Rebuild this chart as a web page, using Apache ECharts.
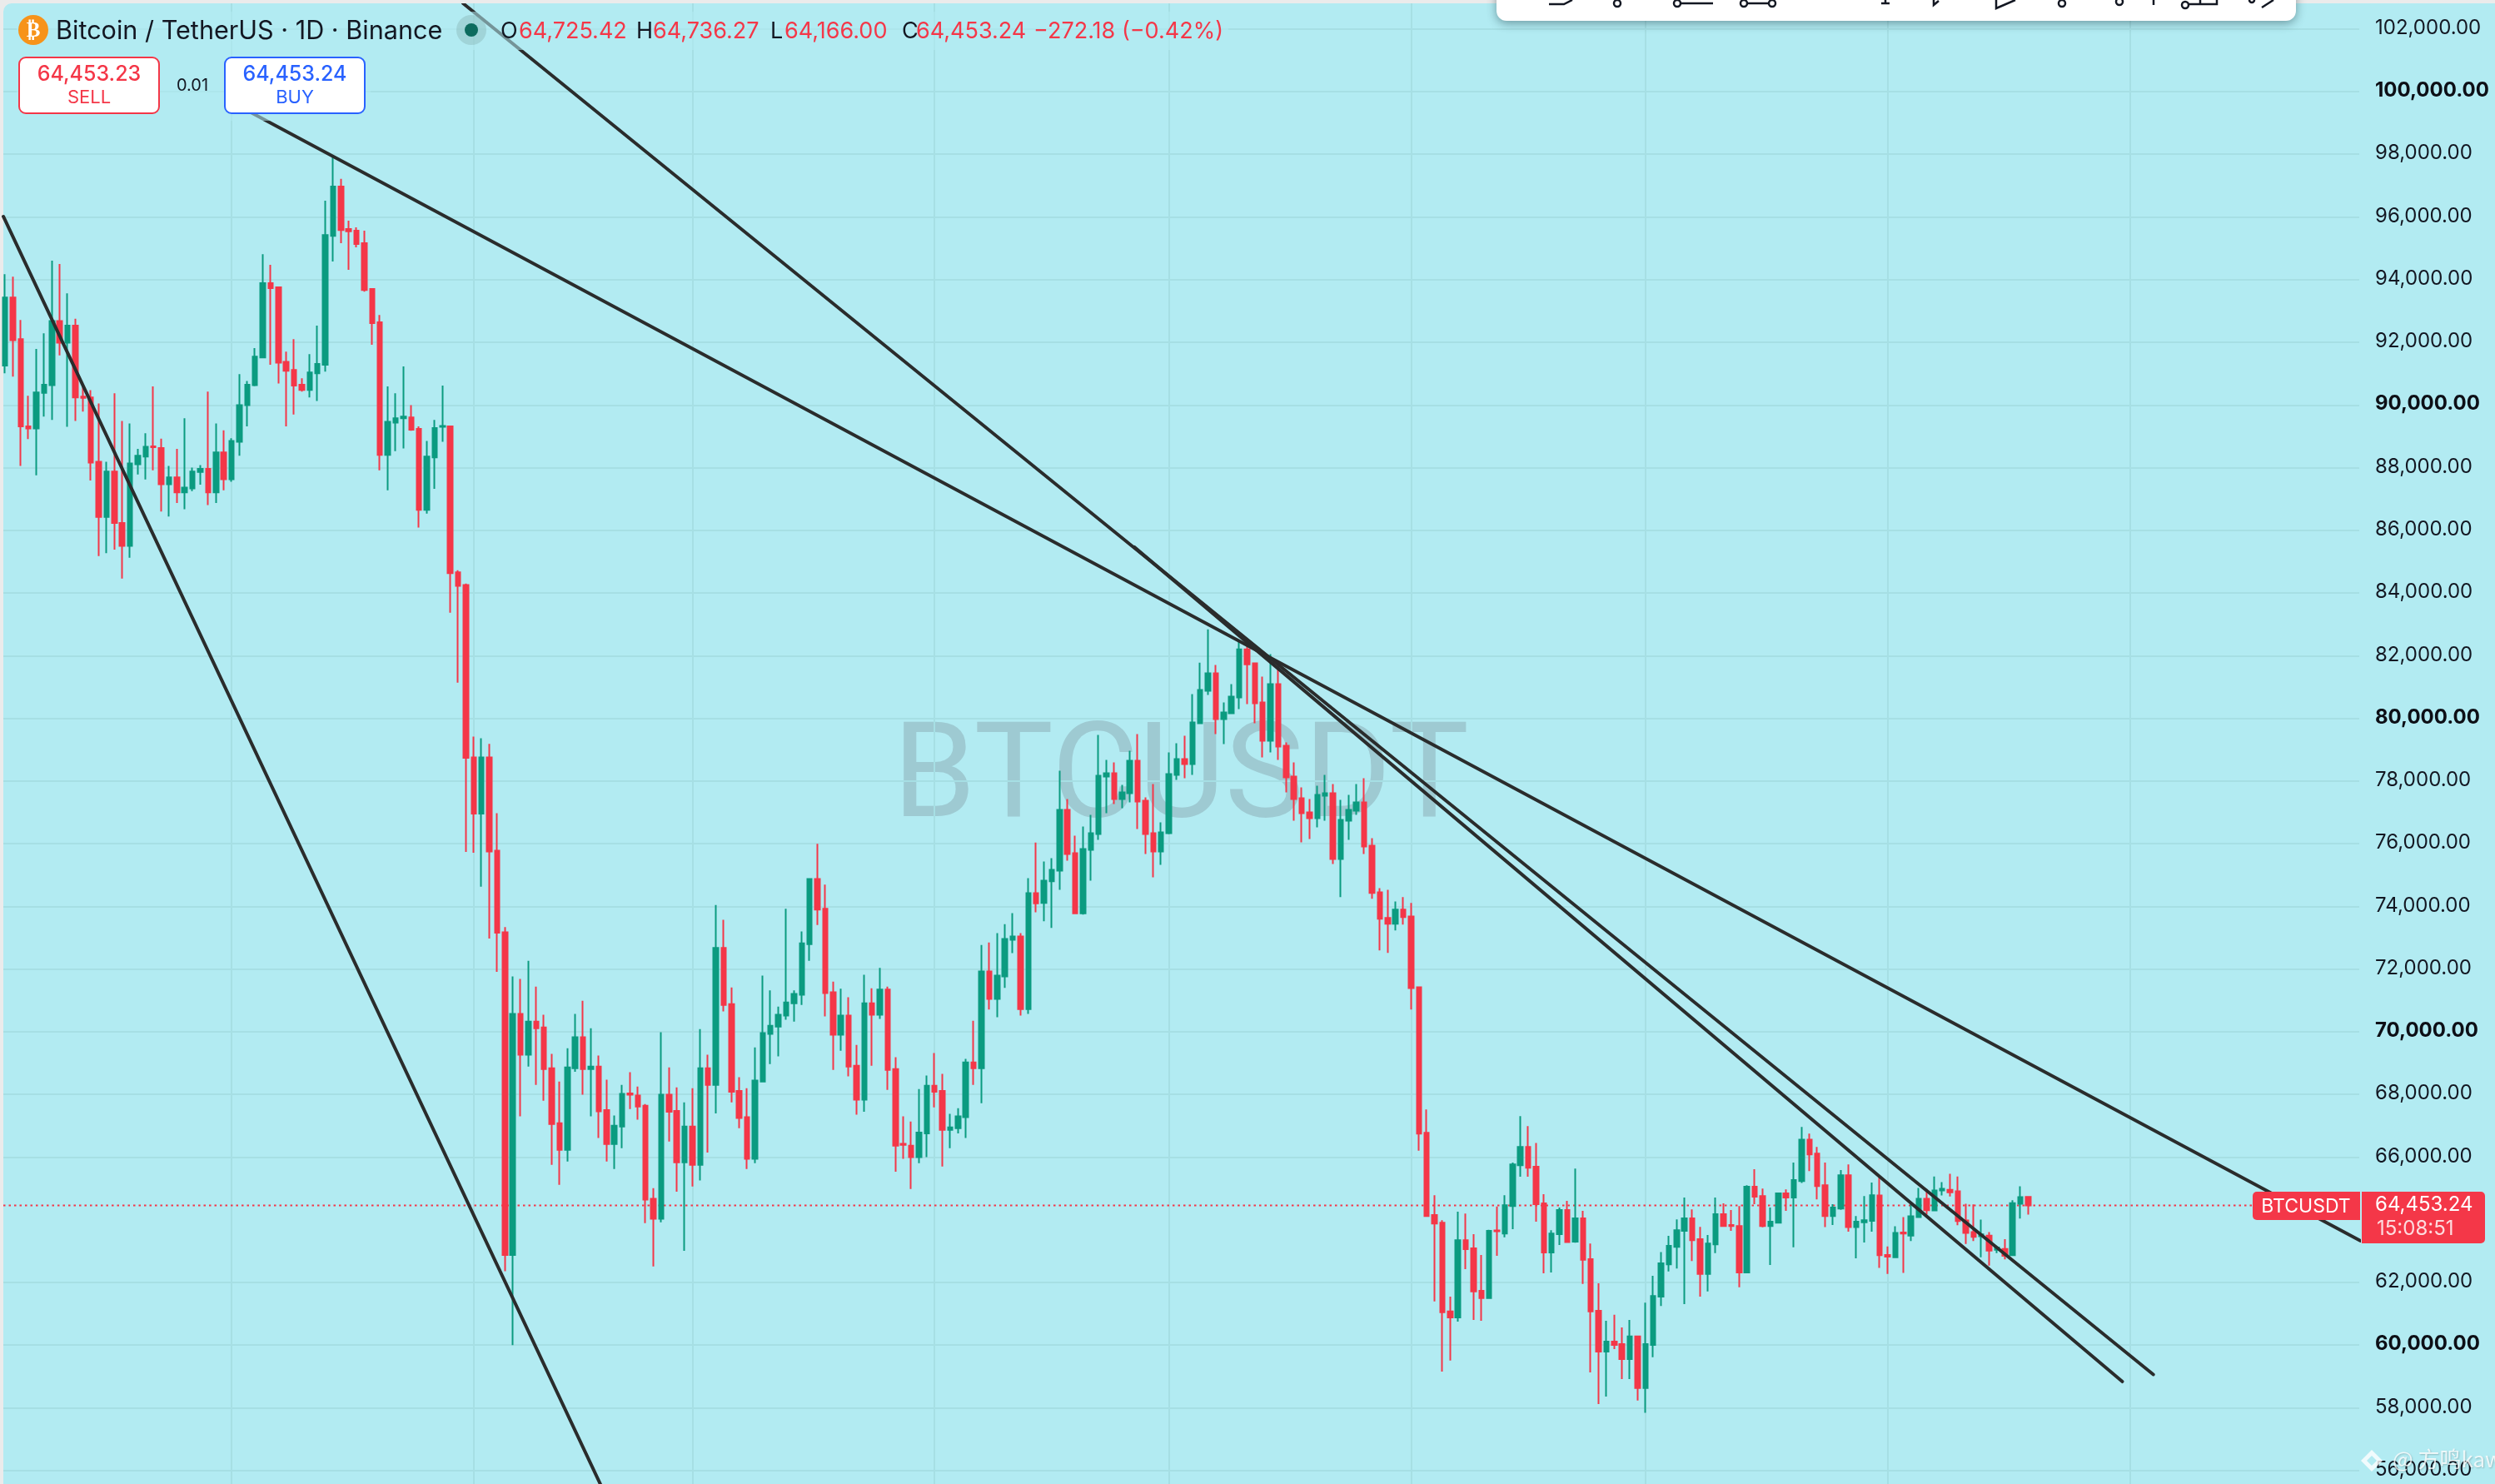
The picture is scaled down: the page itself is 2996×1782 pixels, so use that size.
<!DOCTYPE html>
<html><head><meta charset="utf-8">
<style>html,body{margin:0;padding:0;background:#ebebeb}#c{width:2996px;height:1782px}</style>
<script src="https://cdn.jsdelivr.net/npm/echarts@6/dist/echarts.min.js"></script>
</head><body><div id="c"></div>
<script>
// Daily candles, [open, close, low, high], grouped by calendar month
const decCandles = [
[91256,93427,91011,94173],[93427,92070,90903,94092],[92097,89315,88053,92708],[89315,89247,88908,90292],[89247,90401,87755,91785],
[90387,90645,89627,92287],[90631,92681,89519,94607],[92681,91988,91581,94499],[91988,92531,89302,93563],[92531,90238,89492,92748],
[90265,90224,89790,90672],[90238,88162,87592,90469],[88189,86425,85176,90048],[86425,87877,85271,88189],[87877,86235,85380,90374],
[86235,85502,84457,89492],[85502,88135,85122,89410],[88107,88379,87782,88596],[88352,88664,87619,89098],[88680,88650,87917,90591],
[88623,87470,86601,88922],[87470,87687,86438,88053],[87687,87212,86873,88596],[87212,87361,86669,89573],[87334,87877,87253,87999],
[87863,87958,87456,88080],[87958,87212,86805,90428],[87212,88487,86873,89410],[88487,87632,87280,89193]];
const janCandles = [
[87632,88854,87551,88935],[88827,89994,88379,90984],[89994,90645,89315,90767],[90631,91541,90600,91812],[91514,93888,91500,94811],
[93888,93725,91283,94472],[93753,91351,90686,93753],[91378,91093,89315,91703],[91120,90618,89695,92097],[90645,90482,90428,90849],
[90482,91039,90238,91622],[91011,91310,90129,92531],[91283,95422,91066,96521],[95395,96969,94580,97959],[96969,95584,95164,97213],
[95612,95544,94309,95883],[95560,95137,95028,95666],[95164,93671,93617,95560],[93700,92613,91921,93700],[92640,88406,87917,92870],
[88406,89464,87280,90591],[89437,89573,88528,90374],[89573,89627,88610,91229],[89600,89207,89179,89994],[89234,86655,86085,89315],
[86655,88352,86533,88854],[88325,89261,87320,89519],[89300,89330,88827,90618],[89315,84633,83371,89342],[84661,84226,81140,84728],
[84254,78738,75739,84300]];
const febCandles = [
[78752,76961,75712,79417],[76961,78752,74627,79363],[78752,75753,72971,79186],[75780,73161,71913,76974],[73175,62875,62359,73337],
[62875,70569,60000,71763],[70569,69266,67299,71682],[69266,70325,68886,72265],[70325,70108,68303,71438],[70135,68805,67801,70542],
[68832,67055,65752,69294],[67082,66227,65114,68412],[66227,68859,65860,69470],[68832,69823,68724,70569],[69823,68805,67991,70990],
[68805,68886,67299,70108],[68886,67462,66607,69239],[67502,66417,65860,68466],[66417,67000,65616,67326],[66973,68018,66281,68303],
[68030,67990,67529,68710],[67964,67611,67190,68249],[67638,64639,63893,67692],[64666,64028,62509,65005],[64028,67991,63920,69986],
[67991,67448,66498,68859],[67475,65833,64897,68222],[65833,66973,63011,67747]];
const marCandles = [
[66973,65752,65060,68194],[65752,68832,65250,70081],[68832,68303,66145,69266],[68303,72673,67394,74043],[72673,70854,70651,73568],
[70881,68086,67747,71411],[68113,67245,66919,68547],[67272,65942,65616,68194],[65942,68439,65806,69497],[68412,69959,68385,71791],
[69931,70189,68968,71316],[70162,70542,69212,70800],[70515,70936,70379,73921],[70908,71207,70325,71316],[71180,72822,70854,73202],
[72795,74871,72265,74898],[74871,73894,73405,75997],[73921,71234,70488,74694],[71261,69904,68778,71600],[69904,70515,69389,71370],
[70515,68886,68574,71098],[68914,67828,67353,69579],[67828,70908,67448,71818],[70908,70542,68914,71383],[70542,71343,70406,72035],
[71343,68778,68140,71438],[68805,66362,65535,69185],[66420,66390,65942,67299],[66362,65996,64978,67136],[65996,66783,65806,68167],
[66756,68276,65996,68602]];
const aprCandles = [
[68276,68086,67584,69321],[68113,66865,65698,68656],[66865,66946,66281,67380],[66919,67299,66756,67557],[67272,69022,66607,69131],
[69022,68832,68303,70352],[68832,71926,67719,72768],[71926,71044,70705,72849],[71044,71791,70461,73148],[71763,72957,71397,73432],
[72930,73039,72510,73785],[73039,70718,70515,73148],[70718,74423,70569,74898],[74423,74097,73812,76038],[74106,74823,73522,75434],
[74797,75168,73310,75540],[75142,77080,74531,78328],[77080,75673,75460,77425],[75699,73779,73760,76257],[73779,75832,73735,76549],
[75805,76336,74823,76921],[76310,78168,76124,79469],[78142,78248,76974,78673],[78248,77425,77266,78593],[77425,77637,77133,77876],
[77611,78646,77319,78965],[78646,77345,76469,79496],[77372,76310,75673,77478],[76336,75752,74929,77903],[75752,76363,75328,76682]];
const mayCandles = [
[76336,78221,76300,78912],[78195,78699,78036,79204],[78699,78540,78089,79443],[78540,79868,78195,80770],[79841,80903,79814,81779],
[80876,81434,80744,82841],[81434,79974,79496,81700],[79974,80186,79177,80505],[80160,80691,80133,81089],[80664,82204,80292,82469],
[82204,81726,80452,82390],[81753,80478,79841,81780],[80505,79283,78752,81328],[79283,81089,78912,82045],[81089,79098,78673,81673],
[79124,78115,77637,79230],[78142,77425,76735,78593],[77452,76974,76044,77797],[77000,76814,76151,77425],[76814,77558,76522,77850],
[77530,77611,76735,78195],[77611,75513,75354,77903],[75513,76761,74292,77398],[76735,77080,76124,77558],[77053,77319,76921,77903],
[77319,75912,75673,78089],[75938,74425,74239,76177],[74451,73602,72593,74584],[73628,73442,72513,74531],[73442,73894,73230,74159],
[73894,73655,73416,74292]];
const junCandles = [
[73680,71393,70706,74107],[71417,66748,66203,71417],[66772,64117,64100,67518],[64153,63880,61392,64781],[63904,61048,59152,63987],
[61072,60882,59507,61546],[60882,63347,60752,64259],[63347,63062,62423,64200],[63086,61712,60799,63536],[61735,61498,60775,62873],
[61498,63643,61470,63680],[63660,63630,62849,64425],[63560,64461,63442,64781],[64437,65764,63702,65824],[65741,66321,65373,67305],
[66321,65658,65373,66985],[65693,64496,63939,66452],[64520,62956,62292,64816],[62956,63560,62316,63667],[63536,64307,63193,64390],
[64307,63288,63264,64603],[63300,64046,63270,65634],[64046,62719,61949,64283],[62743,61072,59128,63240],[61095,59792,58121,61972],
[59792,60112,58358,60775],[60112,60005,59875,60965],[60029,59555,58915,60562],[59555,60278,58915,60799],[60278,58631,58228,60300]];
const julCandles = [
[58631,60029,57837,61356],[60005,61569,59614,62209],[61546,62612,61249,62968],[62577,63169,62351,63489],[63134,63667,62446,64010],
[63643,64046,61309,64710],[64046,63347,62683,64330],[63382,62269,61546,63773],[62269,63240,61712,63513],[63217,64176,62932,64710],
[64176,63797,63780,64520],[63830,63800,63643,64307],[63797,62316,61842,64437],[62316,65053,62290,65100],[65053,64733,64496,65610],
[64757,63797,63760,64994],[63797,63939,62553,64390],[63904,64840,63890,64860],[64840,64710,64283,64970],[64710,65267,63122,65824],
[65231,66558,65172,66961],[66558,66084,65551,66748],[66108,65077,64650,66321],[65101,64117,63762,65824],[64117,64390,63833,64496],
[64354,65421,64319,65587],[65421,63762,63619,65764],[63762,63939,62766,64117],[63916,63987,63276,64757],[63963,64781,63619,65184],
[64775,62866,62466,65423]];
const augCandles = [
[62875,62821,62271,63150],[62804,63576,62790,63789],[63594,63558,62306,64082],[63496,64109,63319,64491],[64082,64668,64070,65015],
[64668,64304,64162,64979],[64296,64935,64280,65379],[64935,64988,64775,65201],[64953,64873,64739,65468],[64908,63958,63825,65379],
[63976,63576,63230,64509],[63603,63452,63319,64491],[63470,63532,62804,64002],[63496,63017,62537,63603],[63043,63114,62937,63159],
[63070,62848,62733,63381],[62866,64526,62848,64624],[64509,64722,64038,65068],[64725.42,64453.24,64166,64736.27]];

// Candle numbers where a new month starts (vertical grid)
const monthStartIndex = [29, 60, 88, 119, 149, 180, 210, 241, 272];
const priceTicks = [56000,58000,60000,62000,66000,68000,70000,72000,74000,76000,78000,80000,82000,84000,86000,88000,90000,92000,94000,96000,98000,100000,102000];
const boldTicks = [60000,70000,80000,90000,100000];
// Hand-drawn trend lines, [candle number, price] end points
const trendSteepLeft = [[-0.21,96014],[80,53560]];
const trendLongUpper = [[30.28,99492],[301.5,63332]];
const trendUpper2 = [[58.64,102816],[275.02,59062]];
const trendLower2 = [[144.56,85466],[271.06,58835]];
const lastPrice = 64453.24;
const sellPrice = '64,453.23', buyPrice = '64,453.24', spreadText = '0.01', countdown = '15:08:51';
const ohlcReadout = {O:'64,725.42',H:'64,736.27',L:'64,166.00',C:'64,453.24',chg:'\u2212272.18 (\u22120.42%)'};

const RED='#f43748', GREEN='#0b9b80', INK='#131722', BG='#b2ebf2', GRID='#a6dfe4', LINE='#2a2c2c', FONT='Inter';
const allCandles=[...decCandles,...janCandles,...febCandles,...marCandles,...aprCandles,...mayCandles,...junCandles,...julCandles,...augCandles];
const candleData=allCandles.map((r,i)=>[i,r[0],r[1],r[2],r[3]]);
const xMin=(4-6)/9.38, xMax=(2833-6)/9.38;

const T=(x,y,text,fill,size,o={})=>({type:'text',z:o.z??100,style:{x,y,text,fill,font:`${o.weight||400} ${size}px ${o.family||FONT}`,textAlign:o.align||'left',textVerticalAlign:'middle',opacity:o.opacity??1,textShadowColor:o.sc,textShadowBlur:o.sb||0,textShadowOffsetX:o.sb?1:0,textShadowOffsetY:o.sb?1:0}});
const R=(x,y,w,h,fill,o={})=>({type:'rect',z:o.z??100,shape:{x,y,width:w,height:h,r:o.r||0},style:{fill,stroke:o.stroke,lineWidth:o.lw||0,shadowBlur:o.blur||0,shadowColor:o.sc,shadowOffsetY:o.sy||0,opacity:o.opacity??1}});
const Cc=(x,y,r,o={})=>({type:'circle',z:o.z??100,shape:{cx:x,cy:y,r},style:{fill:o.fill||'#fff',stroke:o.stroke,lineWidth:o.lw||0,opacity:o.opacity??1}});
const L=(pts,o={})=>({type:'polyline',z:102,shape:{points:pts},style:{stroke:o.stroke||'#131722',lineWidth:o.lw||2.5,fill:'none'}});
const diamond=(cx,cy,r,fill,z)=>({type:'polygon',z,shape:{points:[[cx,cy-r],[cx+r,cy],[cx,cy+r],[cx-r,cy]]},style:{fill}});

const graphics=[
 R(4,4,2992,1778,BG,{z:-10,r:[10,0,0,0]}),
 T(1418,940,'BTCUSDT','#9ecad2',160,{z:0,align:'center',family:'Roboto'}),
 // legend backdrop fades whatever passes underneath
 R(20,14,1455,46,BG,{z:50,opacity:.55}), R(20,60,425,85,BG,{z:50,opacity:.55}),
 // top toolbar, cropped by the screenshot
 R(0,0,2996,4,'#ebebeb',{z:60}),
 R(1797,-20,960,45,'#fff',{z:101,r:12,blur:12,sc:'rgba(20,50,60,.45)',sy:3}),
 L([[1860,5],[1878,5],[1888,0]]),
 Cc(1942,4,4,{z:102,stroke:INK,lw:2.5}),
 Cc(2014,4,4,{z:102,stroke:INK,lw:2.5}), L([[2018,4],[2057,4]]),
 Cc(2094,4,4,{z:102,stroke:INK,lw:2.5}), L([[2098,4],[2124,4]]), Cc(2128,4,4,{z:102,stroke:INK,lw:2.5}),
 L([[2259,4],[2269,4]]), L([[2264,4],[2264,0]]),
 L([[2322,0],[2322,6],[2328,1]]),
 L([[2397,0],[2397,10],[2420,0]]),
 Cc(2476,4,4,{z:102,stroke:INK,lw:2.5}), Cc(2545,2,4,{z:102,stroke:INK,lw:2.5}), L([[2586,0],[2586,6]]),
 Cc(2624,6,4,{z:102,stroke:INK,lw:2.5}), L([[2628,5],[2662,5],[2662,0]]), L([[2642,4],[2642,0]]),
 Cc(2704,0,3,{z:102,stroke:INK,lw:2.5}), L([[2716,9],[2730,0]]),
 // header
 Cc(40,36,18,{fill:'#f7931a'}), T(40,37,'\u20BF','#fff',25,{align:'center',weight:700,family:'DejaVu Sans',z:101}),
 T(67,38,'Bitcoin / TetherUS \u00B7 1D \u00B7 Binance',INK,30.6),
 Cc(566,36,18,{fill:'#7fa8a8',opacity:.35}), Cc(566,36,8,{fill:'#0d6b5e'}),
 T(601,38,'O',INK,27), T(623,38,ohlcReadout.O,RED,27),
 T(764,38,'H',INK,27), T(784,38,ohlcReadout.H,RED,27),
 T(925,38,'L',INK,27), T(942,38,ohlcReadout.L,RED,27),
 T(1083,38,'C',INK,27), T(1100,38,ohlcReadout.C,RED,27),
 T(1241,38,ohlcReadout.chg,RED,27),
 // sell / buy
 R(23,69,168,67,'#fff',{stroke:RED,lw:2,r:8}),
 T(107,89,sellPrice,RED,25,{align:'center',weight:500}), T(107,117,'SELL',RED,22,{align:'center'}),
 T(231,103,spreadText,INK,20,{align:'center'}),
 R(270,69,168,67,'#fff',{stroke:'#2962ff',lw:2,r:8}),
 T(354,89,buyPrice,'#2962ff',25,{align:'center',weight:500}), T(354,117,'BUY','#2962ff',22,{align:'center'}),
 // price tags
 R(2705,1431,129,34,RED,{r:[5,0,0,5]}),
 T(2769,1449,'BTCUSDT','#fff',23,{align:'center'}),
 R(2836,1431,148,62,RED,{r:[0,5,5,0]}),
 T(2852,1447,lastPrice.toLocaleString('en-US',{minimumFractionDigits:2}),'#fff',24),
 T(2854,1476,countdown,'rgba(255,255,255,.82)',24),
 // republisher mark
 diamond(2848,1754,13,'rgba(255,255,255,.8)',110),
 diamond(2848,1754,6,BG,111),
 T(2873,1752,'@ \u65B9\u9E23kaw','rgba(255,255,255,.8)',26,{z:110,family:'"Noto Sans CJK SC"',sc:'rgba(0,0,0,.25)',sb:2})
];

const lineSeries=(data)=>({type:'line',data,z:5,symbol:'none',animation:false,silent:true,lineStyle:{color:LINE,width:4,cap:'round'}});

const chart=echarts.init(document.getElementById('c'),null,{width:2996,height:1782,renderer:'canvas'});
chart.setOption({
 animation:false,backgroundColor:'#ebebeb',
 grid:{left:4,top:4,width:2829,height:1778,containLabel:false},
 xAxis:{type:'value',min:xMin,max:xMax,axisLine:{show:false},axisLabel:{show:false},
   axisTick:{show:false,customValues:monthStartIndex},
   splitLine:{show:true,lineStyle:{color:GRID,width:2}}},
 yAxis:{type:'value',position:'right',min:55567,max:102816,scale:true,axisLine:{show:false},
   axisTick:{show:false,customValues:priceTicks},
   splitLine:{show:true,lineStyle:{color:GRID,width:2}},
   axisLabel:{customValues:priceTicks,margin:19,hideOverlap:false,showMinLabel:true,showMaxLabel:true,align:'left',
     formatter:v=>{const s=Number(v).toLocaleString('en-US',{minimumFractionDigits:2,maximumFractionDigits:2});return boldTicks.includes(v)?`{b|${s}}`:`{n|${s}}`;},
     rich:{n:{fontFamily:FONT,fontSize:24,color:INK,padding:[0,0,2,0]},b:{fontFamily:FONT,fontSize:24,fontWeight:700,color:'#0d0f16',padding:[0,0,2,0]}}}},
 series:[
  {type:'line',z:1,symbol:'none',silent:true,data:[[xMin,lastPrice],[xMax,lastPrice]],lineStyle:{color:RED,width:2,type:[2.5,4]}},
  {type:'candlestick',z:2,data:candleData,barWidth:6,large:false,progressive:0,silent:true,
   itemStyle:{color:GREEN,color0:RED,borderColor:GREEN,borderColor0:RED,borderWidth:2}},
  lineSeries(trendSteepLeft),lineSeries(trendLongUpper),lineSeries(trendUpper2),lineSeries(trendLower2)
 ],
 graphic:graphics
});
</script></body></html>
